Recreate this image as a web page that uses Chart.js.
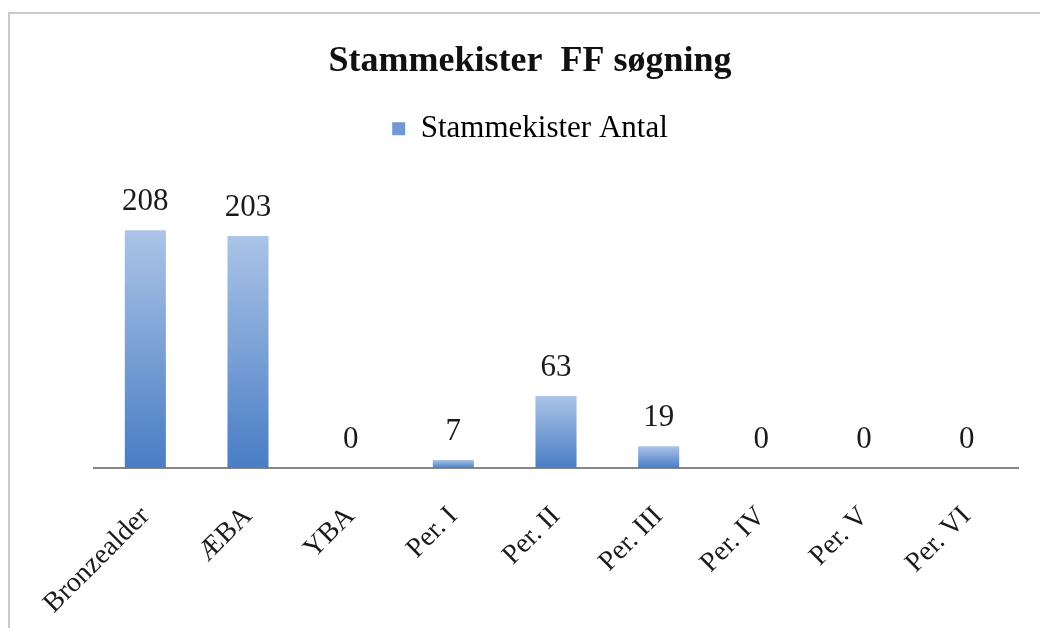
<!DOCTYPE html>
<html lang="da">
<head>
<meta charset="utf-8">
<title>Stammekister FF søgning</title>
<script src="https://cdn.jsdelivr.net/npm/chart.js@4/dist/chart.umd.min.js"></script>
<style>
    html, body { margin: 0; padding: 0; background: #fff; }
    #wrap { position: relative; width: 1040px; height: 628px; }
</style>
</head>
<body>
<div id="wrap"><canvas id="chartStammekister" width="1040" height="628"></canvas></div>
<script>
(function () {
    'use strict';

    // Perioder og antal stammekister
    const perioder = ['Bronzealder', 'ÆBA', 'YBA', 'Per. I', 'Per. II', 'Per. III', 'Per. IV', 'Per. V', 'Per. VI'];
    const antal = [208, 203, 0, 7, 63, 19, 0, 0, 0];
    const serieNavn = 'Stammekister Antal';
    const titel = 'Stammekister  FF søgning';

    const serif = '"Liberation Serif", "Times New Roman", serif';
    const frameColor = '#cacaca';

    // Lodret gradient pr. søjle: lys top, mørkere bund
    function barFill(ctx) {
        const chart = ctx.chart;
        if (!chart.chartArea || ctx.type !== 'data') {
            return '#6f98d2';
        }
        const y = chart.scales.y;
        const top = y.getPixelForValue(ctx.raw);
        const bottom = y.getPixelForValue(0);
        if (bottom - top < 1) {
            return '#6f98d2';
        }
        const g = chart.ctx.createLinearGradient(0, top, 0, bottom);
        g.addColorStop(0, '#abc4e7');
        g.addColorStop(1, '#497dc5');
        return g;
    }

    // Ramme i venstre og øverste kant
    const frame = {
        id: 'frame',
        beforeDraw(chart) {
            const c = chart.ctx;
            c.save();
            c.fillStyle = '#fff';
            c.fillRect(0, 0, chart.width, chart.height);
            c.strokeStyle = frameColor;
            c.lineWidth = 2;
            c.beginPath();
            c.moveTo(9, chart.height);
            c.lineTo(9, 13);
            c.lineTo(chart.width, 13);
            c.stroke();
            c.restore();
        }
    };

    // Værdi over hver søjle
    const valueLabels = {
        id: 'valueLabels',
        afterDatasetsDraw(chart) {
            const c = chart.ctx;
            const meta = chart.getDatasetMeta(0);
            c.save();
            c.font = '31px ' + serif;
            c.fillStyle = '#1a1a1a';
            c.textAlign = 'center';
            c.textBaseline = 'alphabetic';
            meta.data.forEach(function (bar, i) {
                c.fillText(String(antal[i]), bar.x, bar.y - 20);
            });
            c.restore();
        }
    };

    // Ekstra luft under forklaringen
    const legendGap = {
        id: 'legendGap',
        beforeInit(chart) {
            const fit = chart.legend.fit;
            chart.legend.fit = function () {
                fit.bind(chart.legend)();
                this.height += 28;
            };
        }
    };

    new Chart(document.getElementById('chartStammekister'), {
        type: 'bar',
        data: {
            labels: perioder,
            datasets: [{
                label: serieNavn,
                data: antal,
                backgroundColor: barFill,
                borderWidth: 0,
                barPercentage: 0.8,
                categoryPercentage: 0.5
            }]
        },
        plugins: [frame, valueLabels, legendGap],
        options: {
            responsive: false,
            animation: false,
            layout: { padding: { top: 0, left: 42, right: 22, bottom: 0 } },
            plugins: {
                title: {
                    display: true,
                    text: titel,
                    color: '#111',
                    font: { family: serif, size: 36, weight: 'bold' },
                    padding: { top: 40, bottom: 20 }
                },
                legend: {
                    position: 'top',
                    labels: {
                        color: '#1a1a1a',
                        font: { family: serif, size: 31 },
                        boxWidth: 13,
                        boxHeight: 13,
                        padding: 10,
                        generateLabels: function () {
                            return [{
                                text: serieNavn,
                                fillStyle: '#7098d2',
                                strokeStyle: '#7098d2',
                                lineWidth: 0,
                                datasetIndex: 0
                            }];
                        }
                    }
                },
                tooltip: { enabled: false }
            },
            scales: {
                x: {
                    grid: { display: false, drawTicks: false },
                    border: { display: true, color: '#868686', width: 2 },
                    ticks: {
                        color: '#1a1a1a',
                        font: { family: serif, size: 28 },
                        minRotation: 45,
                        maxRotation: 45,
                        padding: 32
                    },
                    afterFit(scale) {
                        // akselinjen starter ved x = 94 og ligger ved y = 468
                        scale.height = 160;
                        scale.paddingLeft = 94;
                    }
                },
                y: {
                    display: false,
                    min: 0,
                    max: 250
                }
            }
        }
    });
})();
</script>
</body>
</html>
